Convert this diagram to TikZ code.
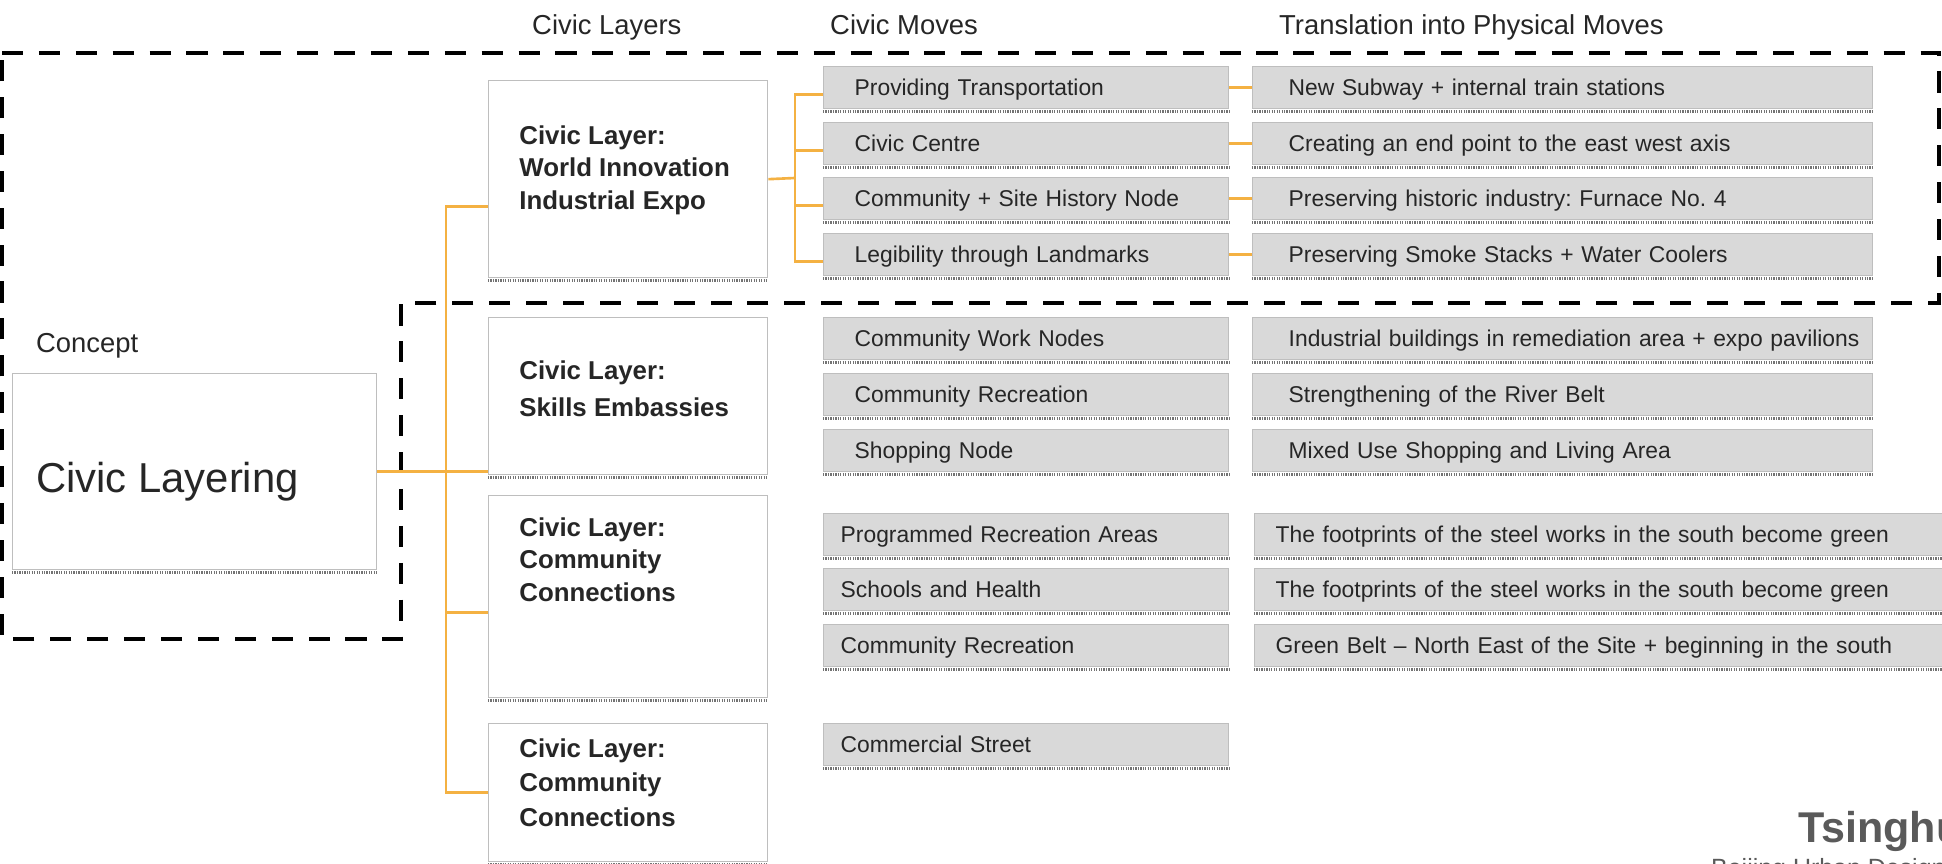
\documentclass[tikz,border=0pt]{standalone}
\usepackage{fontspec}
\setmainfont{Liberation Sans}
\definecolor{tieline}{RGB}{244,177,66}
\definecolor{rimgray}{RGB}{190,190,190}
\definecolor{cellgray}{RGB}{217,217,217}
\definecolor{inkgray}{RGB}{38,38,38}
\definecolor{markgray}{RGB}{90,90,90}
\frenchspacing

\begin{document}
\begin{tikzpicture}[x=0.02cm,y=-0.02cm,
	link/.style={draw=tieline,line width=1.5pt},
	zone/.style={draw=black,line width=2.4pt,dash pattern=on 12pt off 9pt},
	seam/.style={draw=black!55,line width=2pt,dash pattern=on 0.7pt off 0.7pt},
	plain/.style={draw=rimgray,line width=0.8pt,fill=white,anchor=north west,inner sep=0pt,minimum width=5.58cm},
	move/.style={draw=rimgray,line width=0.8pt,fill=cellgray,anchor=north west,minimum height=0.84cm,inner ysep=0pt,text height=0.9em,text depth=0.05em,text=inkgray,align=left,font=\fontsize{13}{15}\selectfont,execute at begin node={\hbox\bgroup},execute at end node={\egroup}},
	moveA/.style={move,inner xsep=0.62cm,text width=6.86cm},
	transA/.style={move,inner xsep=0.72cm,text width=10.96cm},
	moveB/.style={move,inner xsep=0.34cm,text width=7.42cm},
	transB/.style={move,inner xsep=0.42cm,text width=13.08cm},
	head/.style={anchor=base west,text=inkgray,font=\fontsize{15.6}{18}\selectfont},
	title/.style={anchor=north west,inner sep=0pt,align=left,text=inkgray,font=\bfseries\fontsize{14.7}{18.7}\selectfont}]
	\useasboundingbox (0,0) rectangle (1942,864);
	\clip (0,0) rectangle (1942,864);
	\draw[zone] (2,53) -- (1939,53) -- (1939,303) -- (401,303) -- (401,639) -- (2,639) -- cycle;

	\node[head] (layershead) at (526,35) {Civic Layers};
	\node[head] (moveshead) at (824,35) {Civic Moves};
	\node[head] (physhead) at (1273,35) {Translation into Physical Moves};

	\node[plain,minimum width=7.28cm,minimum height=3.92cm] (concept) at (12,373) {};
	\node[head] (conceptcap) at (30,353) {Concept};
	\node[anchor=base west,text=inkgray,font=\fontsize{23.8}{28}\selectfont] (conceptname) at (30,492) {Civic Layering};

	\node[plain,minimum height=3.94cm] (lay1) at (488,80) {};
	\node[plain,minimum height=3.14cm] (lay2) at (488,317) {};
	\node[plain,minimum height=4.04cm] (lay3) at (488,495) {};
	\node[plain,minimum height=2.76cm] (lay4) at (488,723) {};
	\node[title] (lay1text) at (519,125) {Civic Layer:\\World Innovation\\Industrial Expo};
	\node[title,font=\bfseries\fontsize{14.7}{21.5}\selectfont] (lay2text) at (519,360) {Civic Layer:\\Skills Embassies};
	\node[title] (lay3text) at (519,517) {Civic Layer:\\Community\\Connections};
	\node[title,font=\bfseries\fontsize{14.7}{19.8}\selectfont] (lay4text) at (519,738) {Civic Layer:\\Community\\Connections};

	\node[moveA] (m1) at (823,66) {Providing Transportation};
	\node[moveA] (m2) at (823,122) {Civic Centre};
	\node[moveA] (m3) at (823,177) {Community + Site History Node};
	\node[moveA] (m4) at (823,233) {Legibility through Landmarks};
	\node[moveA] (m5) at (823,317) {Community Work Nodes};
	\node[moveA] (m6) at (823,373) {Community Recreation};
	\node[moveA] (m7) at (823,429) {Shopping Node};
	\node[moveB] (m8) at (823,513) {Programmed Recreation Areas};
	\node[moveB] (m9) at (823,568) {Schools and Health};
	\node[moveB] (m10) at (823,624) {Community Recreation};
	\node[moveB] (m11) at (823,723) {Commercial Street};

	\node[transA] (t1) at (1252,66) {New Subway + internal train stations};
	\node[transA] (t2) at (1252,122) {Creating an end point to the east west axis};
	\node[transA] (t3) at (1252,177) {Preserving historic industry: Furnace No. 4};
	\node[transA] (t4) at (1252,233) {Preserving Smoke Stacks + Water Coolers};
	\node[transA] (t5) at (1252,317) {Industrial buildings in remediation area + expo pavilions};
	\node[transA] (t6) at (1252,373) {Strengthening of the River Belt};
	\node[transA] (t7) at (1252,429) {Mixed Use Shopping and Living Area};
	\node[transB] (t8) at (1254,513) {The footprints of the steel works in the south become green};
	\node[transB] (t9) at (1254,568) {The footprints of the steel works in the south become green};
	\node[transB] (t10) at (1254,624) {Green Belt -- North East of the Site + beginning in the south};

	\foreach \n in {concept,lay1,lay2,lay3,lay4,m1,m2,m3,m4,m5,m6,m7,m8,m9,m10,m11,t1,t2,t3,t4,t5,t6,t7,t8,t9,t10}
		\draw[seam] ([yshift=-1.1pt]\n.south west) -- ([yshift=-1.1pt]\n.south east);

	\coordinate (trunk) at (446,471);
	\coordinate (fork) at (795,178);
	\draw[link] (concept.east) -- (concept.east -| lay2.west);
	\draw[link] (trunk) |- ([yshift=-15.6pt]lay1.west);
	\draw[link] (trunk) |- ([yshift=-9pt]lay3.west);
	\draw[link] (trunk) |- (lay4.west);
	\draw[link] (lay1.east) -- (fork);
	\foreach \i in {1,...,4}
		\draw[link] (fork) |- ([yshift=-4pt]m\i.west);
	\foreach \i in {1,...,4}
		\draw[link] (m\i) -- (t\i);

	\node[anchor=base west,text=markgray,font=\bfseries\fontsize{24.5}{28}\selectfont] (uni) at (1792,842) {Tsinghua};
	\node[anchor=base west,text=markgray,font=\fontsize{14.2}{17}\selectfont] (studio) at (1705,876) {Beijing Urban Design};
\end{tikzpicture}
\end{document}
